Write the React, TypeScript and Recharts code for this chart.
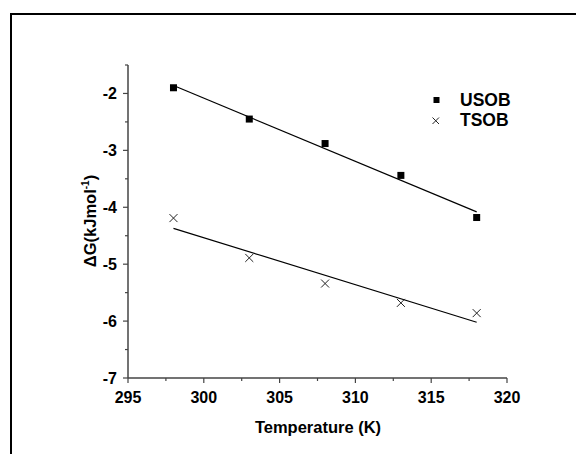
import React from "react";
import { ComposedChart, Scatter, Line, XAxis, YAxis, Legend } from "recharts";

// measured points (K, kJ/mol)
const temps = [298, 303, 308, 313, 318];
const usob = [-1.9, -2.45, -2.88, -3.44, -4.18];
const tsob = [-4.19, -4.89, -5.34, -5.68, -5.86];

// linear fit end points
const fitX = [298, 318];
const usobFit = [-1.86, -4.08];
const tsobFit = [-4.37, -6.02];

const xTicks = [295, 297.5, 300, 302.5, 305, 307.5, 310, 312.5, 315, 317.5, 320];
const yTicks = [-7, -6.5, -6, -5.5, -5, -4.5, -4, -3.5, -3, -2.5, -2, -1.5];

const FONT = "'Liberation Sans', Arial, sans-serif";
const AXIS = "#444";

const usobData = temps.map((x, i) => ({ x, y: usob[i] }));
const tsobData = temps.map((x, i) => ({ x, y: tsob[i] }));
const usobFitData = fitX.map((x, i) => ({ x, y: usobFit[i] }));
const tsobFitData = fitX.map((x, i) => ({ x, y: tsobFit[i] }));

const Square = (props: any) => {
  const { cx, cy } = props;
  return <rect x={cx - 3.5} y={cy - 3.5} width={7} height={7} fill="#000" />;
};

const Cross = (props: any) => {
  const { cx, cy } = props;
  const r = 4;
  return (
    <g stroke="#222" strokeWidth={1}>
      <line x1={cx - r} y1={cy - r} x2={cx + r} y2={cy + r} />
      <line x1={cx - r} y1={cy + r} x2={cx + r} y2={cy - r} />
    </g>
  );
};

const XTick = (props: any) => {
  const { x, y, payload } = props;
  const v = payload.value;
  const major = v % 5 === 0;
  return (
    <g>
      <line x1={x} y1={y} x2={x} y2={y + (major ? 5 : 3)} stroke={AXIS} strokeWidth={1.2} />
      {major && (
        <text x={x} y={y + 25} textAnchor="middle" fontFamily={FONT} fontWeight="bold" fontSize={16} fill="#000">
          {v}
        </text>
      )}
    </g>
  );
};

const YTick = (props: any) => {
  const { x, y, payload } = props;
  const v = payload.value;
  const major = Number.isInteger(v);
  return (
    <g>
      <line x1={x} y1={y} x2={x - (major ? 5 : 3)} y2={y} stroke={AXIS} strokeWidth={1.2} />
      {major && (
        <text x={x - 11} y={y + 5.5} textAnchor="end" fontFamily={FONT} fontWeight="bold" fontSize={16} fill="#000">
          {v}
        </text>
      )}
    </g>
  );
};

const XTitle = () => (
  <text x={318} y={433} textAnchor="middle" fontFamily={FONT} fontWeight="bold" fontSize={16.5} fill="#000">
    Temperature (K)
  </text>
);

const YTitle = () => (
  <text
    x={96}
    y={221}
    transform="rotate(-90, 96, 221)"
    textAnchor="middle"
    fontFamily={FONT}
    fontWeight="bold"
    fontSize={16.5}
    fill="#000"
  >
    ΔG(kJmol
    <tspan dy={-7} fontSize={10}>-1</tspan>
    <tspan dy={7}>)</tspan>
  </text>
);

const renderLegend = () => (
  <svg width={110} height={46} style={{ display: "block" }}>
    <rect x={3.5} y={10} width={6} height={6} fill="#000" />
    <text x={30} y={18.5} fontFamily={FONT} fontWeight="bold" fontSize={17.5} fill="#000">USOB</text>
    <g stroke="#222" strokeWidth={1}>
      <line x1={2.5} y1={30.5} x2={9} y2={37} />
      <line x1={2.5} y1={37} x2={9} y2={30.5} />
    </g>
    <text x={30} y={38.5} fontFamily={FONT} fontWeight="bold" fontSize={17.5} fill="#000">TSOB</text>
  </svg>
);

export default function App() {
  return (
    <div style={{ position: "relative", width: 576, height: 454, overflow: "hidden", background: "#fff" }}>
      <style>{"body{margin:0;overflow:hidden}"}</style>
      <div
        style={{
          position: "absolute",
          left: 10,
          top: 13,
          width: 700,
          height: 600,
          border: "2px solid #000",
        }}
      />
      <div style={{ position: "absolute", left: 0, top: 0 }}>
        <ComposedChart width={576} height={454} margin={{ top: 65, right: 69, left: 68, bottom: 36 }}>
          <XAxis
            type="number"
            dataKey="x"
            domain={[295, 320]}
            ticks={xTicks}
            interval={0}
            allowDataOverflow
            height={40}
            tickSize={0}
            tickMargin={0}
            tickLine={false}
            axisLine={{ stroke: AXIS, strokeWidth: 1.5 }}
            tick={<XTick />}
            label={<XTitle />}
          />
          <YAxis
            type="number"
            dataKey="y"
            domain={[-7, -1.5]}
            ticks={yTicks}
            interval={0}
            allowDataOverflow
            width={60}
            tickSize={0}
            tickMargin={0}
            tickLine={false}
            axisLine={{ stroke: AXIS, strokeWidth: 1.5 }}
            tick={<YTick />}
            label={<YTitle />}
          />
          <Line data={usobFitData} dataKey="y" stroke="#000" strokeWidth={1.2} dot={false} isAnimationActive={false} legendType="none" />
          <Line data={tsobFitData} dataKey="y" stroke="#000" strokeWidth={1.2} dot={false} isAnimationActive={false} legendType="none" />
          <Scatter name="USOB" data={usobData} shape={<Square />} isAnimationActive={false} />
          <Scatter name="TSOB" data={tsobData} shape={<Cross />} isAnimationActive={false} />
          <Legend
            layout="vertical"
            align="center"
            verticalAlign="middle"
            content={renderLegend}
            wrapperStyle={{ position: "absolute", left: 430, top: 87, width: 110, height: 46 }}
          />
        </ComposedChart>
      </div>
    </div>
  );
}
